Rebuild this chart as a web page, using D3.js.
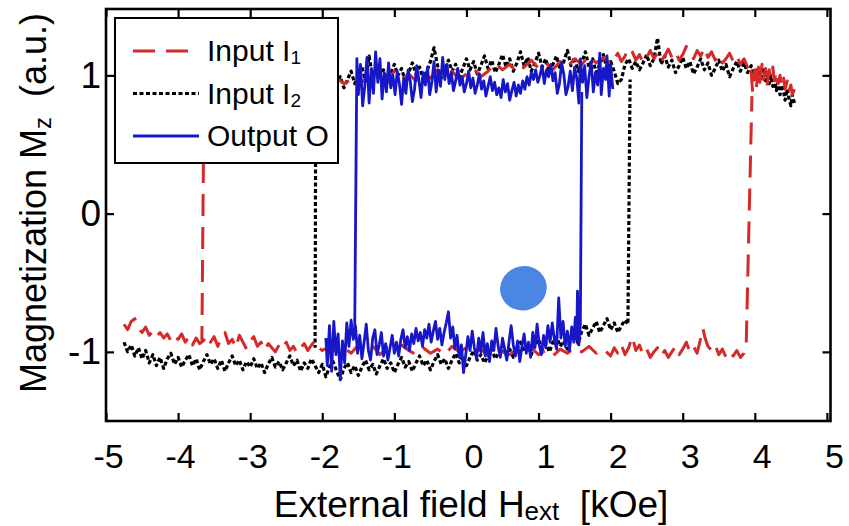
<!DOCTYPE html>
<html lang="en">
<head>
<meta charset="UTF-8">
<title>Hysteresis loops</title>
<style>
  body { margin: 0; background: #fff; }
  svg text { font-family: Arial, "Liberation Sans", sans-serif; fill: #000; }
</style>
<script src="https://d3js.org/d3.v7.min.js"></script>
</head>
<body>
<svg id="chart" width="849" height="526"></svg>
<script>
// field H [kOe], magnetization Mz [a.u.]
// "Up" = field sweep to the right (lower branch + switch), "Down" = sweep back (upper branch + switch)
const i1Up = [[-4.75,-0.80],[-4.70,-0.84],[-4.65,-0.78],[-4.60,-0.76],[-4.55,-0.83],[-4.50,-0.86],[-4.45,-0.82],[-4.40,-0.88],
  [-4.35,-0.85],[-4.30,-0.89],[-4.25,-0.86],[-4.20,-0.90],[-4.15,-0.87],[-4.10,-0.92],[-4.05,-0.88],[-4.00,-0.91],[-3.95,-0.87],
  [-3.90,-0.93],[-3.85,-0.89],[-3.80,-0.95],[-3.75,-0.90],[-3.70,-0.94],[-3.65,-0.92],[-3.60,-0.88],[-3.55,-0.93],[-3.50,-0.89],
  [-3.45,-0.96],[-3.40,-0.90],[-3.35,-0.86],[-3.30,-0.94],[-3.25,-0.91],[-3.20,-0.97],[-3.15,-0.88],[-3.10,-0.93],[-3.05,-0.98],
  [-3.00,-0.92],[-2.95,-0.89],[-2.90,-0.96],[-2.85,-0.93],[-2.80,-0.99],[-2.75,-0.94],[-2.70,-0.97],[-2.65,-1.00],[-2.60,-0.95],
  [-2.55,-0.98],[-2.50,-0.93],[-2.45,-0.99],[-2.40,-0.96],[-2.35,-1.01],[-2.30,-0.97],[-2.25,-0.94],[-2.20,-0.99],[-2.15,-0.95],
  [-2.10,-0.92],[-2.05,-0.97],[-2.00,-0.99],[-1.90,-0.96],[-1.80,-1.00],[-1.70,-0.97],[-1.60,-1.01],[-1.50,-0.95],[-1.40,-0.99],
  [-1.30,-0.96],[-1.20,-1.02],[-1.10,-0.97],[-1.00,-1.00],[-0.90,-0.95],[-0.80,-0.99],[-0.70,-1.02],[-0.60,-0.97],[-0.50,-1.01],
  [-0.40,-0.98],[-0.30,-1.02],[-0.20,-0.96],[-0.10,-1.00],[0.00,-0.97],[0.10,-1.01],[0.20,-0.98],[0.30,-1.03],[0.40,-0.97],
  [0.50,-1.00],[0.60,-1.02],[0.70,-0.98],[0.80,-1.01],[0.90,-0.97],[1.00,-1.02],[1.10,-0.99],[1.20,-1.03],[1.30,-0.98],
  [1.40,-1.01],[1.50,-0.97],[1.60,-1.00],[1.70,-0.96],[1.80,-1.01],[1.90,-0.98],[2.00,-1.03],[2.05,-0.97],[2.10,-1.01],
  [2.15,-0.95],[2.20,-1.02],[2.25,-0.97],[2.30,-0.89],[2.35,-0.99],[2.40,-0.95],[2.45,-1.02],[2.50,-0.98],[2.55,-1.04],
  [2.60,-1.00],[2.65,-0.97],[2.70,-1.03],[2.75,-0.99],[2.80,-1.04],[2.85,-1.00],[2.90,-0.96],[2.95,-1.02],[3.00,-0.98],
  [3.05,-0.93],[3.10,-1.00],[3.15,-0.96],[3.20,-1.01],[3.25,-0.90],[3.28,-0.83],[3.31,-0.90],[3.35,-0.96],[3.40,-0.99],
  [3.45,-0.95],[3.50,-1.02],[3.55,-0.98],[3.60,-1.04],[3.65,-1.00],[3.70,-1.03],[3.75,-0.99],[3.80,-1.04],[3.85,-1.01],
  [3.88,-0.97],[3.96,0.85]];

const i1Down = [[4.55,0.90],[4.52,0.86],[4.50,0.93],[4.47,0.88],[4.45,0.96],[4.42,0.90],[4.40,0.98],[4.37,0.92],[4.35,1.00],
  [4.32,0.94],[4.30,1.03],[4.27,0.96],[4.25,1.06],[4.22,0.98],[4.20,1.04],[4.17,0.92],[4.15,1.05],[4.12,0.97],[4.10,1.08],
  [4.07,0.95],[4.05,1.06],[4.02,0.90],[4.00,1.04],[3.97,0.88],[3.95,1.02],[3.92,1.09],[3.90,1.06],[3.85,1.12],[3.80,1.08],
  [3.75,1.14],[3.70,1.10],[3.65,1.16],[3.60,1.12],[3.55,1.09],[3.50,1.15],[3.45,1.11],[3.40,1.17],[3.35,1.13],[3.30,1.20],
  [3.25,1.14],[3.20,1.18],[3.15,1.12],[3.10,1.16],[3.05,1.21],[3.00,1.15],[2.95,1.11],[2.90,1.17],[2.85,1.13],[2.80,1.19],
  [2.75,1.14],[2.70,1.10],[2.65,1.16],[2.60,1.12],[2.55,1.18],[2.50,1.13],[2.45,1.09],[2.40,1.15],[2.35,1.11],[2.30,1.17],
  [2.25,1.20],[2.20,1.14],[2.15,1.10],[2.10,1.16],[2.05,1.12],[2.00,1.08],[1.90,1.13],[1.80,1.09],[1.70,1.14],[1.60,1.08],
  [1.50,1.12],[1.40,1.06],[1.30,1.10],[1.20,1.04],[1.10,1.09],[1.00,1.05],[0.90,1.11],[0.80,1.06],[0.70,1.02],[0.60,1.08],
  [0.50,1.04],[0.40,1.09],[0.30,1.03],[0.20,0.99],[0.10,1.05],[0.00,1.01],[-0.10,0.97],[-0.20,1.03],[-0.30,0.99],[-0.40,1.04],
  [-0.50,0.98],[-0.60,1.02],[-0.70,0.96],[-0.80,1.01],[-0.90,0.97],[-1.00,1.03],[-1.10,0.95],[-1.20,0.99],[-1.30,0.94],
  [-1.40,0.98],[-1.50,0.92],[-1.60,0.97],[-1.70,0.94],[-1.80,0.98],[-1.90,0.95],[-2.00,0.97],[-2.20,0.94],[-2.40,0.97],
  [-2.60,0.93],[-2.80,0.96],[-3.00,0.94],[-3.20,0.97],[-3.40,0.93],[-3.60,0.95],[-3.64,0.92],[-3.67,-0.92]];

const i2Up = [[-4.75,-0.93],[-4.70,-1.00],[-4.65,-0.95],[-4.60,-1.03],[-4.55,-0.97],[-4.50,-1.05],[-4.45,-0.99],[-4.40,-1.08],
  [-4.35,-1.02],[-4.30,-1.10],[-4.25,-1.04],[-4.20,-1.12],[-4.15,-1.05],[-4.10,-1.01],[-4.05,-1.09],[-4.00,-1.04],[-3.95,-1.11],
  [-3.90,-1.06],[-3.85,-1.02],[-3.80,-1.10],[-3.75,-1.05],[-3.70,-1.13],[-3.65,-1.07],[-3.60,-1.02],[-3.55,-1.09],[-3.50,-1.05],
  [-3.45,-1.12],[-3.40,-1.06],[-3.35,-1.14],[-3.30,-1.08],[-3.25,-1.03],[-3.20,-1.10],[-3.15,-1.06],[-3.10,-1.13],[-3.05,-1.07],
  [-3.00,-1.11],[-2.95,-1.05],[-2.90,-1.12],[-2.85,-1.08],[-2.80,-1.15],[-2.75,-1.09],[-2.70,-1.04],[-2.65,-1.11],[-2.60,-1.07],
  [-2.55,-1.13],[-2.50,-1.08],[-2.45,-1.03],[-2.40,-1.10],[-2.35,-1.06],[-2.30,-1.14],[-2.25,-1.08],[-2.20,-1.12],[-2.15,-1.05],
  [-2.10,-1.10],[-2.05,-1.15],[-2.00,-1.09],[-1.95,-1.18],[-1.90,-1.11],[-1.85,-1.07],[-1.80,-1.14],[-1.75,-1.20],[-1.70,-1.12],
  [-1.65,-1.08],[-1.60,-1.15],[-1.55,-1.10],[-1.50,-1.17],[-1.45,-1.11],[-1.40,-1.06],[-1.35,-1.13],[-1.30,-1.09],[-1.25,-1.16],
  [-1.20,-1.10],[-1.15,-1.05],[-1.10,-1.12],[-1.05,-1.08],[-1.00,-1.15],[-0.95,-1.09],[-0.90,-1.04],[-0.85,-1.11],[-0.80,-1.07],
  [-0.75,-1.14],[-0.70,-1.08],[-0.65,-1.03],[-0.60,-1.10],[-0.55,-1.06],[-0.50,-1.13],[-0.45,-1.07],[-0.40,-1.02],[-0.35,-1.09],
  [-0.30,-1.05],[-0.25,-1.12],[-0.20,-1.06],[-0.15,-1.01],[-0.10,-1.08],[-0.05,-1.03],[0.00,-1.10],[0.05,-1.04],[0.10,-0.99],
  [0.15,-1.06],[0.20,-1.02],[0.25,-1.08],[0.30,-1.03],[0.35,-0.98],[0.40,-1.05],[0.45,-1.00],[0.50,-0.95],[0.55,-1.03],
  [0.60,-0.98],[0.65,-1.04],[0.70,-0.97],[0.75,-0.93],[0.80,-1.00],[0.85,-0.96],[0.90,-1.02],[0.95,-0.95],[1.00,-0.91],
  [1.05,-0.98],[1.10,-0.94],[1.15,-1.00],[1.20,-0.93],[1.25,-0.89],[1.30,-0.96],[1.35,-0.92],[1.40,-0.98],[1.45,-0.91],
  [1.50,-0.87],[1.55,-0.94],[1.60,-0.85],[1.65,-0.80],[1.70,-0.88],[1.75,-0.83],[1.80,-0.78],[1.85,-0.86],[1.90,-0.81],
  [1.95,-0.76],[2.00,-0.84],[2.05,-0.79],[2.10,-0.86],[2.15,-0.81],[2.20,-0.77],[2.24,-0.80],[2.27,0.97]];

const i2Down = [[4.55,0.80],[4.52,0.86],[4.50,0.78],[4.47,0.84],[4.45,0.90],[4.42,0.82],[4.40,0.88],[4.37,0.93],[4.35,0.86],
  [4.32,0.95],[4.30,0.89],[4.27,0.97],[4.25,0.92],[4.22,1.00],[4.20,0.94],[4.17,1.02],[4.15,0.96],[4.12,1.04],[4.10,0.98],
  [4.05,1.05],[4.00,0.99],[3.95,1.07],[3.90,1.02],[3.85,1.09],[3.80,1.03],[3.75,1.10],[3.70,1.05],[3.65,0.99],[3.60,1.08],
  [3.55,1.03],[3.50,1.11],[3.45,1.05],[3.40,1.00],[3.35,1.09],[3.30,1.04],[3.25,1.12],[3.20,1.06],[3.15,1.01],[3.10,1.10],
  [3.05,1.05],[3.00,1.13],[2.95,1.07],[2.90,1.02],[2.85,1.11],[2.80,1.06],[2.75,1.14],[2.70,1.08],[2.65,1.27],[2.60,1.12],
  [2.55,1.07],[2.50,1.15],[2.45,1.09],[2.40,1.04],[2.35,1.10],[2.30,1.05],[2.25,1.12],[2.20,1.08],[2.15,0.97],[2.10,0.94],
  [2.05,1.03],[2.00,1.10],[1.95,1.04],[1.90,1.15],[1.85,1.08],[1.80,1.02],[1.75,1.12],[1.70,1.06],[1.65,1.17],[1.60,1.09],
  [1.55,1.03],[1.50,1.13],[1.45,1.07],[1.40,1.18],[1.35,1.10],[1.30,1.04],[1.25,1.14],[1.20,1.08],[1.15,1.02],[1.10,1.12],
  [1.05,1.06],[1.00,1.16],[0.95,1.09],[0.90,1.03],[0.85,1.13],[0.80,1.07],[0.75,1.17],[0.70,1.09],[0.65,1.03],[0.60,1.12],
  [0.55,1.06],[0.50,1.15],[0.45,1.08],[0.40,1.02],[0.35,1.11],[0.30,1.05],[0.25,1.14],[0.20,1.07],[0.15,1.01],[0.10,1.10],
  [0.05,1.04],[0.00,1.12],[-0.05,1.05],[-0.10,0.99],[-0.15,1.08],[-0.20,1.03],[-0.25,1.11],[-0.30,1.04],[-0.35,0.98],
  [-0.40,1.07],[-0.45,1.20],[-0.50,1.10],[-0.55,1.03],[-0.60,0.97],[-0.65,1.06],[-0.70,1.01],[-0.75,1.09],[-0.80,1.02],
  [-0.85,0.96],[-0.90,1.05],[-0.95,1.00],[-1.00,1.08],[-1.05,1.01],[-1.10,0.95],[-1.15,1.04],[-1.20,0.99],[-1.25,1.07],
  [-1.30,0.98],[-1.35,1.14],[-1.40,0.96],[-1.45,1.06],[-1.50,1.00],[-1.55,0.94],[-1.60,1.03],[-1.65,0.97],[-1.70,0.91],
  [-1.75,0.99],[-1.80,0.93],[-1.85,0.87],[-1.90,0.95],[-1.95,0.90],[-2.00,0.96],[-2.05,0.91],[-2.09,0.93],[-2.10,-0.97]];

const oUp = [[-1.95,-0.90],[-1.93,-1.10],[-1.90,-0.81],[-1.87,-1.14],[-1.84,-0.78],[-1.81,-1.02],[-1.78,-0.87],[-1.75,-1.20],
  [-1.72,-0.92],[-1.69,-1.08],[-1.66,-0.79],[-1.63,-0.96],[-1.60,-0.77],[-1.57,-0.91],[-1.54,-0.81],[-1.51,-1.01],[-1.48,-0.88],
  [-1.45,-1.05],[-1.42,-0.93],[-1.39,-0.80],[-1.36,-0.99],[-1.33,-1.06],[-1.30,-0.90],[-1.27,-0.84],[-1.24,-1.02],[-1.21,-0.95],
  [-1.18,-0.86],[-1.15,-1.03],[-1.12,-0.94],[-1.09,-1.06],[-1.06,-0.97],[-1.03,-0.88],[-1.00,-1.01],[-0.97,-0.93],[-0.94,-1.03],
  [-0.91,-0.91],[-0.88,-0.84],[-0.85,-0.97],[-0.82,-0.89],[-0.79,-0.99],[-0.76,-0.87],[-0.73,-0.94],[-0.70,-0.83],[-0.67,-0.92],
  [-0.64,-0.86],[-0.61,-0.96],[-0.58,-0.84],[-0.55,-0.90],[-0.52,-0.80],[-0.49,-0.93],[-0.46,-0.85],[-0.43,-0.78],[-0.40,-0.91],
  [-0.37,-0.83],[-0.34,-0.95],[-0.31,-0.86],[-0.28,-0.79],[-0.25,-0.71],[-0.22,-0.90],[-0.19,-0.82],[-0.16,-0.98],[-0.13,-0.88],
  [-0.10,-1.04],[-0.07,-0.95],[-0.04,-1.15],[-0.01,-1.02],[0.02,-0.89],[0.05,-0.99],[0.08,-0.85],[0.11,-0.97],[0.14,-1.05],
  [0.17,-0.90],[0.20,-1.00],[0.23,-0.86],[0.26,-1.03],[0.29,-0.94],[0.32,-1.07],[0.35,-0.92],[0.38,-0.99],[0.41,-0.83],
  [0.44,-0.96],[0.47,-1.04],[0.50,-0.90],[0.53,-0.98],[0.56,-1.06],[0.59,-0.93],[0.62,-0.81],[0.65,-0.95],[0.68,-1.03],
  [0.71,-0.92],[0.74,-1.07],[0.77,-0.96],[0.80,-0.87],[0.83,-1.01],[0.86,-0.93],[0.89,-1.04],[0.92,-0.86],[0.95,-0.97],
  [0.98,-0.80],[1.01,-0.95],[1.04,-1.02],[1.07,-0.88],[1.10,-0.97],[1.13,-0.81],[1.16,-0.93],[1.19,-0.79],[1.22,-0.91],
  [1.25,-0.98],[1.28,-0.61],[1.31,-0.90],[1.34,-0.78],[1.37,-0.96],[1.40,-0.85],[1.43,-0.99],[1.46,-0.82],[1.49,-0.93],
  [1.51,-0.75],[1.53,-0.91],[1.54,-0.56],[1.56,-0.95],[1.58,-0.80],[1.60,0.88]];

const oDown = [[2.03,0.90],[2.00,1.08],[1.98,0.85],[1.95,1.14],[1.93,0.97],[1.90,1.05],[1.87,0.86],[1.85,1.16],[1.82,0.93],
  [1.79,1.02],[1.76,0.88],[1.73,1.10],[1.70,0.99],[1.67,0.84],[1.64,1.07],[1.61,0.95],[1.58,1.12],[1.56,0.80],[1.53,0.98],
  [1.50,1.06],[1.47,0.89],[1.44,1.03],[1.41,0.92],[1.38,0.86],[1.35,1.01],[1.32,1.09],[1.29,0.94],[1.26,0.87],[1.23,1.02],
  [1.20,0.96],[1.17,1.08],[1.14,0.99],[1.11,1.04],[1.08,0.94],[1.05,1.07],[1.02,1.00],[0.99,0.95],[0.96,1.04],[0.93,0.97],
  [0.90,1.02],[0.87,0.93],[0.84,0.99],[0.81,0.90],[0.78,0.96],[0.75,0.87],[0.72,0.93],[0.69,0.85],[0.66,0.95],[0.63,0.89],
  [0.60,0.82],[0.57,0.94],[0.54,0.88],[0.51,0.97],[0.48,0.84],[0.45,0.91],[0.42,0.86],[0.39,0.95],[0.36,0.89],[0.33,0.99],
  [0.30,0.92],[0.27,0.85],[0.24,0.96],[0.21,0.90],[0.18,1.01],[0.15,0.93],[0.12,0.87],[0.09,0.98],[0.06,0.91],[0.03,1.03],
  [0.00,0.94],[-0.03,0.88],[-0.06,0.99],[-0.09,0.93],[-0.12,1.05],[-0.15,0.96],[-0.18,0.89],[-0.21,1.02],[-0.24,0.94],
  [-0.27,1.08],[-0.30,0.97],[-0.33,1.13],[-0.36,0.92],[-0.39,1.04],[-0.42,0.88],[-0.45,1.10],[-0.48,0.95],[-0.51,0.86],
  [-0.54,1.06],[-0.57,0.93],[-0.60,1.02],[-0.63,0.84],[-0.66,0.97],[-0.69,1.07],[-0.72,0.90],[-0.75,0.81],[-0.78,0.96],
  [-0.81,1.04],[-0.84,0.87],[-0.87,0.98],[-0.90,0.79],[-0.93,0.94],[-0.96,1.03],[-0.99,0.86],[-1.02,1.00],[-1.05,0.91],
  [-1.08,1.09],[-1.11,0.88],[-1.14,1.02],[-1.17,0.83],[-1.20,1.12],[-1.23,0.95],[-1.26,1.17],[-1.29,0.87],[-1.32,1.05],
  [-1.35,0.80],[-1.38,1.13],[-1.41,0.92],[-1.44,0.78],[-1.47,1.08],[-1.50,0.86],[-1.52,1.12],[-1.55,-0.85]];

const xTicks = [-5, -4, -3, -2, -1, 0, 1, 2, 3, 4, 5];
const yTicks = [-1, 0, 1];
const blobAt = [0.79, -0.54];

const series = [
    {label: "Input I", sub: "1", up: i1Up, down: i1Down, color: "#d42a2a", dash: "22,11", width: 3},
    {label: "Input I", sub: "2", up: i2Up, down: i2Down, color: "#000000", dash: "4,2.5", width: 3.2},
    {label: "Output O", sub: null, up: oUp, down: oDown, color: "#1717c9", dash: null, width: 2.8}
];

const svg = d3.select("#chart");
const plot = {left: 106, right: 830.5, top: 9, bottom: 421};

const x = d3.scaleLinear().domain([-5, 5.05]).range([plot.left, plot.right]);
const y = d3.scaleLinear().domain([-1.5, 1.48]).range([plot.bottom, plot.top]);

const line = d3.line().x(d => x(d[0])).y(d => y(d[1]));

// data lines: black under red, blue on top
const drawOrder = [series[1], series[0], series[2]];
drawOrder.forEach(s => {
    [s.up, s.down].forEach(branch => {
        svg.append("path")
            .datum(branch)
            .attr("d", line)
            .attr("fill", "none")
            .attr("stroke", s.color)
            .attr("stroke-width", s.width)
            .attr("stroke-dasharray", s.dash)
            .attr("stroke-linejoin", "round");
    });
});

// blue blob annotation
svg.append("ellipse")
    .attr("cx", x(blobAt[0]))
    .attr("cy", y(blobAt[1]))
    .attr("rx", 23.5)
    .attr("ry", 22)
    .attr("transform", `rotate(-20, ${x(blobAt[0])}, ${y(blobAt[1])})`)
    .attr("fill", "#4a87e3");

// axes, ticks pointing inwards on all four sides
const axes = [
    {axis: d3.axisBottom(x), at: `translate(0,${plot.bottom})`, labels: true},
    {axis: d3.axisTop(x), at: `translate(0,${plot.top})`, labels: false},
    {axis: d3.axisLeft(y), at: `translate(${plot.left},0)`, labels: true},
    {axis: d3.axisRight(y), at: `translate(${plot.right},0)`, labels: false}
];
axes.forEach((a, i) => {
    const vertical = i >= 2;
    a.axis.tickValues(vertical ? yTicks : xTicks)
        .tickSize(-8)
        .tickPadding(vertical ? 5 : 23)
        .tickFormat(a.labels ? (d => String(d)) : "");
    const g = svg.append("g").attr("transform", a.at).call(a.axis);
    g.select(".domain").remove();
    g.selectAll(".tick line").attr("stroke", "#000").attr("stroke-width", 2.2);
    g.selectAll(".tick text").attr("font-family", null);
    if (a.labels && !vertical) {
        g.selectAll(".tick text").style("font-size", "34px").attr("dx", d => d < 0 ? 2 : 7);
    }
    if (a.labels && vertical) {
        g.selectAll(".tick text").style("font-size", "37px");
    }
});

// frame
svg.append("rect")
    .attr("x", plot.left)
    .attr("y", plot.top)
    .attr("width", plot.right - plot.left)
    .attr("height", plot.bottom - plot.top)
    .attr("fill", "none")
    .attr("stroke", "#000")
    .attr("stroke-width", 2.6);

// axis titles
const xTitle = svg.append("text")
    .attr("x", 471)
    .attr("y", 517)
    .attr("text-anchor", "middle")
    .style("font-size", "37px");
xTitle.append("tspan").text("External field H");
xTitle.append("tspan").attr("dy", 3).style("font-size", "26px").text("ext");
xTitle.append("tspan").attr("dy", -3).text("\u00a0\u00a0[kOe]");

const yTitle = svg.append("text")
    .attr("transform", "translate(46,203) rotate(-90)")
    .attr("text-anchor", "middle")
    .style("font-size", "36px");
yTitle.append("tspan").text("Magnetization M");
yTitle.append("tspan").attr("dy", 5).style("font-size", "24px").text("z");
yTitle.append("tspan").attr("dy", -5).text("\u00a0\u00a0(a.u.)");

// legend
const legend = svg.append("g");
legend.append("rect")
    .attr("x", 115).attr("y", 18)
    .attr("width", 223).attr("height", 145)
    .attr("fill", "#fff")
    .attr("stroke", "#000")
    .attr("stroke-width", 2);

series.forEach((s, i) => {
    const base = 61 + i * 42.5;
    legend.append("line")
        .attr("x1", 133).attr("x2", 199)
        .attr("y1", base - 10).attr("y2", base - 10)
        .attr("stroke", s.color)
        .attr("stroke-width", s.width)
        .attr("stroke-dasharray", s.dash);
    const t = legend.append("text")
        .attr("x", 207).attr("y", base)
        .style("font-size", "30px");
    t.append("tspan").text(s.label);
    if (s.sub) t.append("tspan").attr("dy", 3).style("font-size", "19px").text(s.sub);
});
</script>
</body>
</html>
